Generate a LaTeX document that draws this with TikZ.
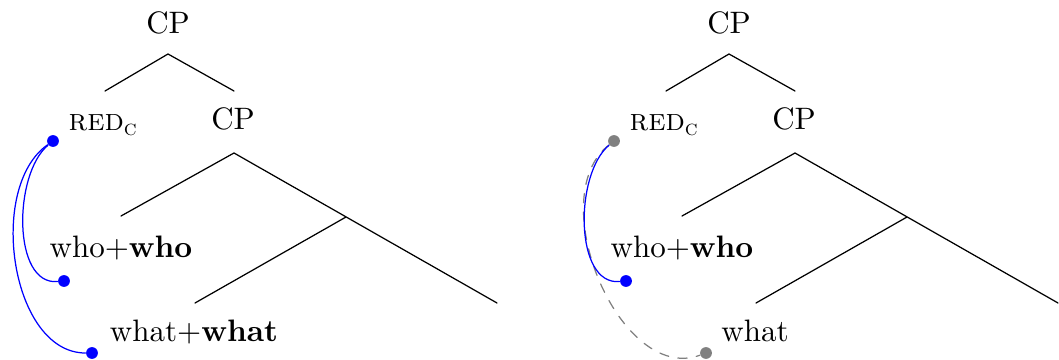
\documentclass[tikz,border=0pt]{standalone}
\begin{document}
\begin{tikzpicture}[x=1.134cm,y=-1.134cm,line join=round,line cap=round,
  lab/.style={anchor=base,inner sep=0pt},
  dot/.style={circle,fill=#1,inner sep=0pt,minimum size=3.8pt},
  link/.style={blue}]
\useasboundingbox (0,0) rectangle (10.59,3.60);
% two trees, the right one shifted
\foreach \t/\s/\w in {l/0/{what+\textbf{what}}, r/5.61/{what}}{
  \begin{scope}[shift={(\s,0)}]
    \node[lab] (cp1\t) at (1.68,0.34) {CP};
    \node[lab] (red\t) at (1.035,1.31) {\textsc{red}\textsubscript{\textsc{c}}};
    \node[lab] (cp2\t) at (2.33,1.30) {CP};
    \node[lab] (who\t) at (1.21,2.57) {who+\textbf{who}};
    \node[lab] (what\t) at (1.94,3.41) {\w};
    \coordinate (j1\t) at (1.68,0.54);  \coordinate (a\t) at (1.05,0.91);
    \coordinate (b\t) at (2.34,0.91);   \coordinate (j2\t) at (2.34,1.53);
    \coordinate (c\t) at (1.21,2.16);   \coordinate (e\t) at (4.97,3.03);
    \coordinate (j3\t) at (3.46,2.17);  \coordinate (f\t) at (1.95,3.03);
    \draw (a\t)--(j1\t)--(b\t) (c\t)--(j2\t)--(e\t) (j3\t)--(f\t);
  \end{scope}
}
% links
\node[dot=blue] (d1) at (0.53,1.41) {};
\node[dot=blue] (d2) at (0.64,2.81) {};
\node[dot=blue] (d3) at (0.92,3.53) {};
\draw[link] (d1) to[out=220,in=185,looseness=0.85] (d2);
\draw[link] (d1) to[out=215,in=180,looseness=0.9] (d3);
\node[dot=gray] (g1) at (6.14,1.41) {};
\node[dot=blue] (g2) at (6.26,2.81) {};
\node[dot=gray] (g3) at (7.06,3.53) {};
\draw[gray,dashed] (g1) to[out=218,in=200,looseness=0.95] (g3);
\draw[link] (g1) to[out=220,in=185,looseness=0.85] (g2);
\end{tikzpicture}
\end{document}
